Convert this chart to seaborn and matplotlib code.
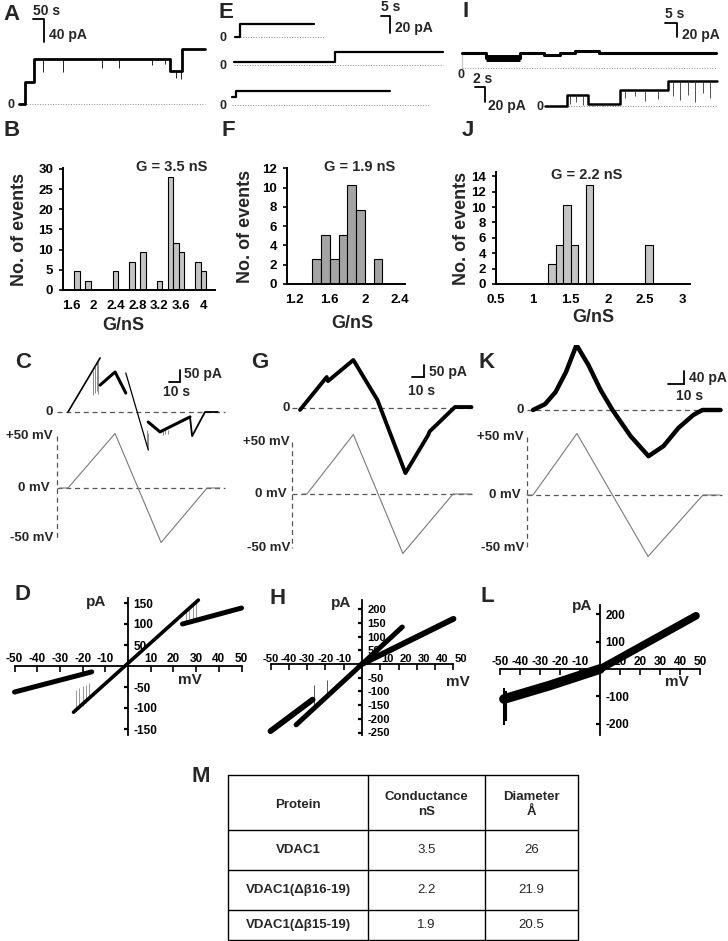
import numpy as np
import matplotlib
matplotlib.use("Agg")
import matplotlib.pyplot as plt
import matplotlib.transforms as mtransforms
import seaborn as sns

# ---------------- values ----------------
# A: single channel insertion steps (time s, current pA)
a_edges = [0, 27, 68, 686, 741, 845]
a_levels = [0, 38, 78, 57, 96]
a_spike_t = [109, 200, 377, 455, 605, 664, 712, 735]
a_spike_depth = [23, 23, 16, 16, 10, 9, 12, 14]

# E: three recordings
e1_edges = [0, 3, 44]
e1_levels = [0, 15]
e2_edges = [0, 56, 116]
e2_levels = [3.5, 15]
e3_edges = [0, 2, 88]
e3_levels = [10, 16]

# I: two recordings
i1_edges = [0, 10, 24, 34, 41, 47, 57, 106]
i1_levels = [21, 14, 21, 19, 21, 24, 21]
i2_edges = [0, 4.4, 8.5, 14.9, 24.5, 34.4]
i2_levels = [0, 15, 3, 21, 33]
i2_spike_t = [5, 6.2, 7.5, 9.5, 11.5, 13.5, 16, 18, 20, 22.5, 25.5, 27, 28.5, 30, 31.5, 33]
i2_spike_depth = [12, 9, 14, 3, 3, 3, 10, 8, 14, 12, 20, 25, 18, 28, 15, 22]

# B, F, J: conductance histograms (G nS, No. of events)
b_g = [1.7, 1.9, 2.4, 2.7, 2.9, 3.2, 3.4, 3.5, 3.6, 3.9, 4.0]
b_n = [4.65, 2.33, 4.65, 6.98, 9.3, 2.33, 27.9, 11.6, 9.3, 6.98, 4.65]
f_g = [1.45, 1.55, 1.65, 1.75, 1.85, 1.95, 2.15]
f_n = [2.56, 5.13, 2.56, 5.13, 10.26, 7.69, 2.56]
j_g = [1.25, 1.35, 1.45, 1.55, 1.75, 2.55]
j_n = [2.56, 5.13, 10.26, 5.13, 12.82, 5.13]

# C: current during voltage ramp (time s, pA) and the ramp (mV)
c_seg_t = [[0, 30], [30, 44, 54], [54, 75], [75, 86, 114], [114, 116, 128, 140]]
c_seg_i = [[0, 231], [115, 171, 81], [167, -162], [-43, -85, -21], [-21, -103, 0, 0]]
c_seg_lw = [1.2, 2.2, 0.9, 2.2, 1.3]
c_spk_t = [23, 25, 27, 28.5, 74, 75, 89, 91, 93]
c_spk_lo = [73, 80, 90, 75, -150, -162, -98, -95, -92]
c_spk_hi = [177, 193, 208, 219, -77, -90, -80, -78, -75]
c_v_t = [-7.5, 0, 44, 87, 130, 142]
c_v = [0, 0, 50, -50, 0, 0]

# G
g_t = [0, 21, 22, 42, 61, 83, 101, 102, 122, 135]
g_i = [-8, 129, 112, 200, 33, -271, -112, -98, 4, 4]
g_v_t = [2, 5.5, 42, 81, 120.5, 135]
g_v = [0, 0, 50, -50, 0, 0]

# K
k_t = [0, 8, 15, 22, 29, 37, 45, 53, 65, 77, 87, 97, 107, 113, 125]
k_i = [0, 18, 55, 117, 200, 138, 62, 0, -80, -142, -111, -55, -15, 0, 0]
k_v_t = [-4, 0, 29.3, 76.7, 113.3, 124.7]
k_v = [0, 0, 50, -50, 0, 0]

# D, H, L: current-voltage relations (mV, pA)
d_main_v, d_main_i = [-24, 31], [-110, 157]
d_low_v, d_low_i = [-50, -16], [-62, -14]
d_up_v, d_up_i = [24, 50], [100, 138]
d_spk_v = [-23, -21.5, -20, -18.5, -17, 25.5, 27, 28.5, 30]
d_spk_lo = [-106, -100, -95, -87, -80, 103, 106, 108, 111]
d_spk_hi = [-56, -52, -48, -45, -40, 135, 142, 148, 152]

h_low_v, h_low_i = [-50, -27], [-245, -130]
h_main_v, h_main_i = [-36, 22], [-222, 135]
h_up_v, h_up_i = [0, 50], [0, 165]
h_spk_v = [-26, -19]
h_spk_lo = [-150, -110]
h_spk_hi = [-75, -60]

l_low_v, l_low_i = [-48, -25, 0], [-110, -60, 0]
l_up_v, l_up_i = [0, 48], [0, 195]
l_spk_v = [-48, -47]
l_spk_lo = [-205, -190]
l_spk_hi = [-70, -80]

# M: table
m_header = ["Protein", "Conductance\nnS", "Diameter\nÅ"]
m_protein = ["VDAC1", "VDAC1(Δβ16-19)", "VDAC1(Δβ15-19)"]
m_conductance = ["3.5", "2.2", "1.9"]
m_diameter = ["26", "21.9", "20.5"]

# ---------------- figure ----------------
W, H = 728, 941
sns.set_style("white")
plt.rcParams['font.family'] = ['Liberation Sans', 'DejaVu Sans']
plt.rcParams['font.weight'] = 'bold'
plt.rcParams['axes.labelweight'] = 'bold'

fig = plt.figure(figsize=(W / 100, H / 100), dpi=100)
fig.patch.set_facecolor('white')


def box_axes(x0, y0, x1, y1):
    ax = fig.add_axes([x0 / W, 1 - y1 / H, (x1 - x0) / W, (y1 - y0) / H])
    ax.set_facecolor('none')
    return ax


def scaled_axes(box, ox, oy, sx, sy, off=True):
    # axes whose data units map to pixels: origin (ox, oy), sx/sy px per unit
    x0, y0, x1, y1 = box
    ax = box_axes(*box)
    ax.set_xlim((x0 - ox) / sx, (x1 - ox) / sx)
    ax.set_ylim((oy - y1) / sy, (oy - y0) / sy)
    if off:
        ax.axis('off')
    return ax


ov = box_axes(0, 0, W, H)
ov.set_xlim(0, W)
ov.set_ylim(H, 0)
ov.axis('off')


def txt(x, y, s, size=9, ha='center', va='center', **kw):
    ov.text(x, y, s, fontsize=size, ha=ha, va=va, **kw)


def scale_bar(xc, yc, lx, ly):
    ov.plot([xc - lx, xc, xc], [yc, yc, yc + ly], color='black', lw=1.3)


def draw_steps(ax, edges, levels, lw=1.5):
    t = np.repeat(edges, 2)[1:-1]
    y = np.repeat(levels, 2)
    sns.lineplot(x=t, y=y, sort=False, estimator=None, color='black', linewidth=lw, ax=ax)


def level_at(edges, levels, t):
    idx = np.searchsorted(edges, t, side='right') - 1
    return np.asarray(levels)[np.clip(idx, 0, len(levels) - 1)]


def zero_line(ax, t0, t1):
    ax.hlines(0, t0, t1, colors='#8a8a8a', linestyles=':', lw=0.7)


# panel letters
for lab, x, y in [('A', 12, 14), ('E', 226, 12), ('I', 466, 11), ('B', 12, 130), ('F', 228, 130),
                  ('J', 468, 130), ('C', 23, 362), ('G', 260, 362), ('K', 487, 362),
                  ('D', 23, 594), ('H', 278, 598), ('L', 487, 596), ('M', 201, 777)]:
    txt(x, y, lab, size=16)

# ---- A ----
a_sx, a_sy = 0.22, 0.575
ax = scaled_axes((12, 5, 215, 115), 19, 104, a_sx, a_sy)
zero_line(ax, 0, a_edges[-1])
draw_steps(ax, a_edges, a_levels, lw=2.0)
lv = level_at(a_edges, a_levels, a_spike_t)
ax.vlines(a_spike_t, lv - np.array(a_spike_depth), lv, colors='black', lw=0.6)
txt(11, 105, '0', size=9)
scale_bar(44, 19, 50 * a_sx, 40 * a_sy)
txt(33, 11, '50 s', size=10, ha='left')
txt(49, 35, '40 pA', size=10, ha='left')

# ---- E ----
e_sx, e_sy = 1.8, 0.85
for edges, levels, oy, ox, t_end in [(e1_edges, e1_levels, 37, 235, 50),
                                     (e2_edges, e2_levels, 65, 234, 116),
                                     (e3_edges, e3_levels, 105, 232, 110)]:
    ax = scaled_axes((225, oy - 35, 460, oy + 5), ox, oy, e_sx, e_sy)
    zero_line(ax, 0, t_end)
    draw_steps(ax, edges, levels, lw=1.6)
    txt(223, oy + 1, '0', size=9)
scale_bar(390, 16, 5 * e_sx, 20 * e_sy)
txt(381, 7, '5 s', size=10, ha='left')
txt(395, 28, '20 pA', size=10, ha='left')

# ---- I ----
i1_sx, i1_sy = 2.4, 0.7
ax = scaled_axes((455, 25, 728, 75), 462, 68, i1_sx, i1_sy)
zero_line(ax, 0, i1_edges[-1])
sns.lineplot(x=[0, 0], y=[0, i1_levels[0]], color='black', linewidth=1.2, ax=ax)
draw_steps(ax, i1_edges, i1_levels, lw=2.2)
ax.hlines(i1_levels[1], i1_edges[1], i1_edges[2], colors='black', lw=5)
txt(461, 75, '0', size=9)
scale_bar(677, 23, 5 * i1_sx, 20 * i1_sy)
txt(665, 14, '5 s', size=10, ha='left')
txt(682, 35, '20 pA', size=10, ha='left')

i2_sx, i2_sy = 5.0, 0.75
ax = scaled_axes((525, 65, 728, 115), 545, 106, i2_sx, i2_sy)
zero_line(ax, 0, i2_edges[-1])
draw_steps(ax, i2_edges, i2_levels, lw=1.8)
lv = level_at(i2_edges, i2_levels, i2_spike_t)
ax.vlines(i2_spike_t, lv - np.array(i2_spike_depth), lv, colors='#333333', lw=0.6)
txt(540, 107, '0', size=9)
scale_bar(485, 87, 2 * i2_sx, 20 * i2_sy)
txt(473, 79, '2 s', size=10, ha='left')
txt(488, 106, '20 pA', size=10, ha='left')


# ---- histograms ----
def hist_panel(box, xlim, ylim, g, n, color, major, major_lab, minor, yt, major_len):
    ax = box_axes(*box)
    sns.barplot(x=g, y=n, native_scale=True, width=1, color=color, saturation=1,
                edgecolor='black', linewidth=0.8, errorbar=None, ax=ax)
    ax.set_xlim(*xlim)
    ax.set_ylim(*ylim)
    sns.despine(ax=ax)
    for s in ['left', 'bottom']:
        ax.spines[s].set_linewidth(1.4)
        ax.spines[s].set_color('black')
    ax.set_xticks(major)
    ax.set_xticklabels(major_lab)
    ax.set_xticks(minor, minor=True)
    ax.set_yticks(yt)
    ax.set_yticklabels([str(v) for v in yt])
    ax.tick_params(axis='x', which='major', direction='in', length=major_len, width=1.2,
                   pad=7, labelsize=9.5, colors='black')
    ax.tick_params(axis='x', which='minor', direction='in', length=4, width=1.2, colors='black')
    ax.tick_params(axis='y', direction='out', length=3, width=1.2, pad=4, labelsize=9.5,
                   colors='black', left=True)
    ax.set_xlabel('')
    ax.set_ylabel('')
    return ax


hist_panel((63, 168, 215, 290), (1.45, 4.21), (0, 30.2), b_g, b_n, '#c4c4c4',
           [1.6, 2.0, 2.4, 2.8, 3.2, 3.6, 4.0], ['1.6', '2', '2.4', '2.8', '3.2', '3.6', '4'],
           np.arange(1.45, 4.21, 0.1), list(range(0, 31, 5)), 0)
hist_panel((287, 168, 405, 284), (1.11, 2.46), (0, 12.05), f_g, f_n, '#a4a4a4',
           [1.2, 1.6, 2.0, 2.4], ['1.2', '1.6', '2', '2.4'],
           np.arange(1.2, 2.45, 0.1), list(range(0, 13, 2)), 4)
hist_panel((496, 172, 690, 284), (0.5, 3.1), (0, 14.55), j_g, j_n, '#c4c4c4',
           [0.5, 1, 1.5, 2, 2.5, 3], ['0.5', '1', '1.5', '2', '2.5', '3'],
           np.arange(0.6, 3.1, 0.1), list(range(0, 15, 2)), 4)

for x, yc, xl, yl, gt, gx, gy in [(20, 229, 123, 325, 'G = 3.5 nS', 172, 167),
                                  (245, 226, 352, 323, 'G = 1.9 nS', 360, 167),
                                  (461, 228, 593, 317, 'G = 2.2 nS', 587, 175)]:
    txt(x, yc, 'No. of events', size=13, rotation=90)
    txt(xl, yl, 'G/nS', size=13)
    txt(gx, gy, gt, size=10.5)

# ---- C, G, K: current and voltage ramps ----
dash = dict(color='#555555', lw=0.9, ls=(0, (4, 3)))


def ramp_labels(x_right, x_vline, y0i, y_p50, y0v, y_m50, x_end):
    ov.plot([x_vline, x_end], [y0i, y0i], **dash)
    ov.plot([x_vline, x_end], [y0v, y0v], **dash)
    ov.plot([x_vline, x_vline], [y_p50, y_m50], **dash)
    txt(x_right, y0i, '0', size=9.5, ha='right')
    txt(x_right, y_p50, '+50 mV', size=9.5, ha='right')
    txt(x_right - 3, y0v, '0 mV', size=9.5, ha='right')
    txt(x_right, y_m50, '-50 mV', size=9.5, ha='right')


# C
ramp_labels(53, 57, 412, 436, 488, 538, 225)
axi = scaled_axes((50, 345, 235, 560), 68, 412, 1.07, 0.234)
axv = scaled_axes((50, 420, 235, 560), 68, 488, 1.07, 1.09)
sns.lineplot(x=c_v_t, y=c_v, sort=False, estimator=None, color='#7a7a7a', linewidth=0.8, ax=axv)
axi.vlines(c_spk_t, c_spk_lo, c_spk_hi, colors='#777777', lw=0.6)
for t, i, lw in zip(c_seg_t, c_seg_i, c_seg_lw):
    sns.lineplot(x=t, y=i, sort=False, estimator=None, color='black', linewidth=lw, ax=axi)
scale_bar(180, 370, 0, 50 * 0.234)
ov.plot([169, 180], [382, 382], color='black', lw=1.3)
txt(184, 374, '50 pA', size=10, ha='left')
txt(163, 392, '10 s', size=10, ha='left')

# G
ramp_labels(290, 292, 408, 442, 494, 548, 473)
axi = scaled_axes((285, 345, 480, 560), 300, 408, 1.27, 0.24)
axv = scaled_axes((285, 420, 480, 560), 300, 494, 1.27, 1.19)
sns.lineplot(x=g_v_t, y=g_v, sort=False, estimator=None, color='#7a7a7a', linewidth=0.8, ax=axv)
sns.lineplot(x=g_t, y=g_i, sort=False, estimator=None, color='black', linewidth=2.8, ax=axi)
ov.plot([424, 424], [365, 377], color='black', lw=1.3)
ov.plot([412, 424], [377, 377], color='black', lw=1.3)
txt(429, 372, '50 pA', size=10, ha='left')
txt(408, 391, '10 s', size=10, ha='left')

# K
ramp_labels(524, 527, 410, 437, 495, 548, 722)
axi = scaled_axes((520, 345, 728, 560), 533, 410, 1.5, 0.325)
axv = scaled_axes((520, 420, 728, 560), 533, 495, 1.5, 1.23)
sns.lineplot(x=k_v_t, y=k_v, sort=False, estimator=None, color='#7a7a7a', linewidth=0.8, ax=axv)
sns.lineplot(x=k_t, y=k_i, sort=False, estimator=None, color='black', linewidth=3.2, ax=axi)
ov.plot([684, 684], [371, 384], color='black', lw=1.3)
ov.plot([668, 684], [384, 384], color='black', lw=1.3)
txt(689, 378, '40 pA', size=10, ha='left')
txt(676, 396, '10 s', size=10, ha='left')


# ---- D, H, L: I-V relations ----
def iv_panel(box, ox, oy, sx, sy, yt, ybounds, lsize=8.5):
    ax = scaled_axes(box, ox, oy, sx, sy, off=False)
    for s in ['left', 'bottom']:
        ax.spines[s].set_visible(False)
    ax.spines['top'].set_position(('data', 0))
    ax.spines['right'].set_position(('data', 0))
    ax.spines['top'].set_bounds(-50, 50)
    ax.spines['right'].set_bounds(*ybounds)
    for s in ['top', 'right']:
        ax.spines[s].set_color('black')
        ax.spines[s].set_linewidth(1.3)
    ax.xaxis.tick_top()
    ax.yaxis.tick_right()
    xt = [-50, -40, -30, -20, -10, 10, 20, 30, 40, 50]
    ax.set_xticks(xt)
    ax.set_xticklabels([str(v) for v in xt])
    ax.set_yticks(yt)
    ax.set_yticklabels([str(v) for v in yt])
    ax.tick_params(axis='x', direction='in', length=4, width=1.2, pad=1, labelsize=lsize, colors='black')
    ax.tick_params(axis='y', direction='in', length=3, width=1.6, pad=4, labelsize=lsize, colors='black')
    ax.grid(False)
    return ax


ax = iv_panel((5, 590, 245, 740), 128, 666, 2.27, 0.42, [-150, -100, -50, 50, 100, 150], (-165, 162))
ax.vlines(d_spk_v, d_spk_lo, d_spk_hi, colors='#888888', lw=0.6)
sns.lineplot(x=d_main_v, y=d_main_i, color='black', linewidth=2.6, ax=ax)
sns.lineplot(x=d_low_v, y=d_low_i, color='black', linewidth=3.6, ax=ax)
sns.lineplot(x=d_up_v, y=d_up_i, color='black', linewidth=3.6, ax=ax)
txt(96, 602, 'pA', size=11)
txt(190, 680, 'mV', size=11)

ax = iv_panel((262, 590, 470, 740), 362, 664, 1.83, 0.274,
              [-250, -200, -150, -100, -50, 50, 100, 150, 200], (-259, 233), lsize=8)
ax.vlines(h_spk_v, h_spk_lo, h_spk_hi, colors='#555555', lw=0.7)
sns.lineplot(x=h_low_v, y=h_low_i, color='black', linewidth=4.2, ax=ax)
sns.lineplot(x=h_main_v, y=h_main_i, color='black', linewidth=3.6, ax=ax)
sns.lineplot(x=h_up_v, y=h_up_i, color='black', linewidth=4.2, ax=ax)
ax.tick_params(axis='x', pad=0)
# nudge the positive mV labels clear of the "50" pA label
shift = mtransforms.ScaledTranslation(7 / 100, 0, fig.dpi_scale_trans)
for lab, v in zip(ax.get_xticklabels(), ax.get_xticks()):
    if v > 0:
        lab.set_transform(lab.get_transform() + shift)
txt(341, 603, 'pA', size=11)
txt(458, 682, 'mV', size=11)

ax = iv_panel((492, 590, 715, 740), 600, 669, 2.0, 0.273, [-200, -100, 100, 200], (-242, 234))
ax.vlines(l_spk_v, l_spk_lo, l_spk_hi, colors='black', lw=1.5)
sns.lineplot(x=l_low_v, y=l_low_i, sort=False, estimator=None, color='black', linewidth=7, ax=ax)
sns.lineplot(x=l_up_v, y=l_up_i, color='black', linewidth=5.5, ax=ax)
txt(582, 606, 'pA', size=11)
txt(677, 682, 'mV', size=11)

# ---- M: table ----
col_edges = [228, 368, 485, 578]
row_edges = [775, 830, 870, 910, 940]
for x in col_edges:
    ov.plot([x, x], [row_edges[0], row_edges[-1]], color='black', lw=1)
for y in row_edges:
    ov.plot([col_edges[0], col_edges[-1]], [y, y], color='black', lw=1)
col_c = [(a + b) / 2 for a, b in zip(col_edges[:-1], col_edges[1:])]
row_c = [(a + b) / 2 for a, b in zip(row_edges[:-1], row_edges[1:])]
for c, h in zip(col_c, m_header):
    txt(c, row_c[0] + 2, h, size=9.5, linespacing=1.3)
for r, p, g, d in zip(row_c[1:], m_protein, m_conductance, m_diameter):
    txt(col_c[0], r, p, size=9.5)
    txt(col_c[1], r, g, size=9.5, fontweight='normal')
    txt(col_c[2], r, d, size=9.5, fontweight='normal')

fig.savefig('out.png', dpi=100)
